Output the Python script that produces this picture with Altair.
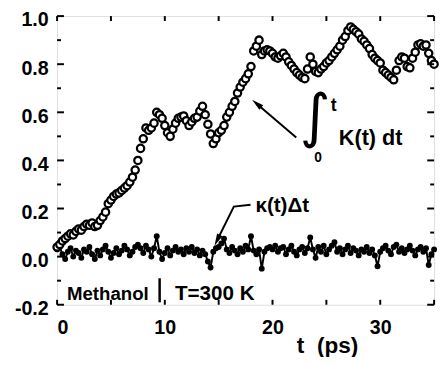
import altair as alt
import pandas as pd

# time grid (ps)
t_vals = [i * 0.25 for i in range(141)]

# integral of K(t) (open circles)
integral_vals = [
    0.04, 0.05, 0.065, 0.075, 0.085, 0.095, 0.09, 0.105, 0.115, 0.11,
    0.125, 0.135, 0.13, 0.14, 0.125, 0.13, 0.15, 0.165, 0.185, 0.22,
    0.235, 0.25, 0.26, 0.265, 0.275, 0.285, 0.295, 0.31, 0.33, 0.36,
    0.40, 0.45, 0.49, 0.535, 0.525, 0.535, 0.555, 0.60, 0.59, 0.575,
    0.545, 0.515, 0.50, 0.53, 0.555, 0.575, 0.58, 0.585, 0.565, 0.545,
    0.56, 0.575, 0.58, 0.605, 0.625, 0.59, 0.55, 0.51, 0.47, 0.49,
    0.515, 0.525, 0.545, 0.58, 0.60, 0.625, 0.645, 0.68, 0.705, 0.725,
    0.74, 0.76, 0.79, 0.855, 0.875, 0.90, 0.84, 0.855, 0.86, 0.855,
    0.845, 0.83, 0.825, 0.835, 0.845, 0.83, 0.81, 0.795, 0.78, 0.765,
    0.755, 0.745, 0.74, 0.78, 0.83, 0.80, 0.77, 0.765, 0.78, 0.79,
    0.805, 0.815, 0.83, 0.845, 0.86, 0.875, 0.90, 0.915, 0.94, 0.955,
    0.945, 0.935, 0.925, 0.905, 0.895, 0.88, 0.865, 0.84, 0.825, 0.815,
    0.805, 0.775, 0.765, 0.755, 0.745, 0.735, 0.775, 0.815, 0.83, 0.825,
    0.79, 0.785, 0.825, 0.85, 0.88, 0.885, 0.875, 0.88, 0.845, 0.815,
    0.80,
]

# kappa(t) * dt (filled dots)
kappa_vals = [
    0.03, 0.04, 0.01, -0.01, 0.02, 0.035, 0.00, 0.025, 0.015, -0.005,
    0.03, 0.02, 0.04, 0.01, -0.01, 0.025, 0.005, 0.03, 0.045, 0.02,
    -0.005, 0.015, 0.035, 0.01, 0.025, 0.045, 0.03, 0.005, 0.02, 0.04,
    0.05, 0.035, 0.015, 0.045, 0.03, 0.00, 0.035, 0.085, 0.02, -0.01,
    0.015, 0.035, 0.005, 0.025, 0.04, 0.02, 0.03, 0.01, 0.035, 0.02,
    0.04, 0.015, 0.03, 0.005, 0.025, 0.01, -0.02, -0.045, 0.02, 0.035,
    0.04, 0.055, 0.075, 0.03, 0.015, 0.04, 0.025, 0.01, 0.035, 0.02,
    0.045, 0.03, 0.085, 0.025, 0.01, 0.03, -0.05, 0.02, 0.035, 0.04,
    0.03, 0.045, 0.02, 0.035, 0.04, 0.01, 0.03, 0.045, 0.02, 0.005,
    0.03, 0.04, 0.015, 0.035, 0.08, 0.03, -0.005, 0.04, 0.02, 0.045,
    0.01, 0.03, 0.045, 0.06, 0.02, 0.035, 0.01, 0.03, 0.045, 0.015,
    0.035, 0.025, 0.005, 0.03, 0.02, 0.04, 0.015, 0.03, 0.005, -0.04,
    0.02, 0.035, 0.045, 0.025, 0.01, 0.04, 0.05, 0.02, 0.035, 0.015,
    0.03, 0.045, 0.025, 0.005, 0.03, 0.04, 0.02, 0.035, -0.035, 0.01,
    0.03,
]

x_label_vals = [0, 10, 20, 30]
x_tick_vals = [0, 5, 10, 15, 20, 25, 30, 35]
y_label_vals = [-0.2, 0.0, 0.2, 0.4, 0.6, 0.8, 1.0]
y_minor_vals = [-0.1, 0.1, 0.3, 0.5, 0.7, 0.9]

# annotation anchors (data units)
int_arrow_t = [22.2, 18.53]
int_arrow_v = [0.495, 0.636]
kap_arrow_t = [17.96, 16.41, 14.86]
kap_arrow_v = [0.216, 0.208, 0.068]
bar_t = [9.52]
bar_v = [-0.09]
bar_v2 = [-0.19]

W, H = 384, 294
xs = alt.Scale(domain=[0, 35], nice=False, zero=False)
ys = alt.Scale(domain=[-0.2, 1.0], nice=False, zero=False)
FONT = "Liberation Sans"

df = pd.DataFrame({"t": t_vals, "integral": integral_vals, "kappa": kappa_vals})

xaxis = alt.Axis(values=x_label_vals, ticks=False, domain=False, grid=False,
                 labelFont=FONT, labelFontWeight="bold", labelFontSize=20,
                 labelPadding=13, labelColor="black",
                 title="t\u00a0\u00a0(ps)", titleFont=FONT, titleFontWeight="bold",
                 titleFontSize=23, titleColor="black", titleX=275, titleY=31,
                 titleBaseline="top", titleAlign="center")
yaxis = alt.Axis(values=y_label_vals, ticks=False, domain=False, grid=False,
                 labelFont=FONT, labelFontWeight="bold", labelFontSize=20,
                 labelPadding=9, labelColor="black", labelOffset=4,
                 labelExpr="replace(format(datum.value, '.1f'), '\u2212', '-')",
                 title=None)

base = alt.Chart(df)

kappa_line = base.mark_line(color="black", strokeWidth=2).encode(
    x=alt.X("t:Q", scale=xs, axis=xaxis),
    y=alt.Y("kappa:Q", scale=ys, axis=yaxis),
)
kappa_pts = base.mark_point(filled=True, color="black", size=36, opacity=1).encode(
    x=alt.X("t:Q", scale=xs), y=alt.Y("kappa:Q", scale=ys)
)
int_pts = base.mark_point(filled=False, color="black", fill="white", fillOpacity=1,
                          size=55, strokeWidth=2.3, opacity=1).encode(
    x=alt.X("t:Q", scale=xs), y=alt.Y("integral:Q", scale=ys)
)

# inward ticks
xt = alt.Chart(pd.DataFrame({"t": x_tick_vals}))
xt_bottom = xt.mark_rule(color="black", strokeWidth=2).encode(
    x=alt.X("t:Q", scale=xs), y=alt.value(H), y2=alt.value(H - 5))
xt_top = xt.mark_rule(color="black", strokeWidth=2).encode(
    x=alt.X("t:Q", scale=xs), y=alt.value(0), y2=alt.value(5))
yt = alt.Chart(pd.DataFrame({"v": y_label_vals}))
yt_left = yt.mark_rule(color="black", strokeWidth=2).encode(
    y=alt.Y("v:Q", scale=ys), x=alt.value(0), x2=alt.value(7))
yt_right = yt.mark_rule(color="black", strokeWidth=2).encode(
    y=alt.Y("v:Q", scale=ys), x=alt.value(W), x2=alt.value(W - 7))
ym = alt.Chart(pd.DataFrame({"v": y_minor_vals}))
ym_left = ym.mark_rule(color="black", strokeWidth=2).encode(
    y=alt.Y("v:Q", scale=ys), x=alt.value(0), x2=alt.value(4))
ym_right = ym.mark_rule(color="black", strokeWidth=2).encode(
    y=alt.Y("v:Q", scale=ys), x=alt.value(W), x2=alt.value(W - 4))

# arrows
arrow_int = alt.Chart(pd.DataFrame({"t": int_arrow_t, "v": int_arrow_v, "o": [0, 1]})).mark_line(
    color="black", strokeWidth=2).encode(x=alt.X("t:Q", scale=xs), y=alt.Y("v:Q", scale=ys), order="o:Q")
head_int = alt.Chart(pd.DataFrame({"t": [int_arrow_t[-1]], "v": [int_arrow_v[-1]]})).mark_point(
    shape="M0,-1L0.5,1L-0.5,1Z", filled=True, color="black", size=150, angle=310, opacity=1).encode(
    x=alt.X("t:Q", scale=xs), y=alt.Y("v:Q", scale=ys))
arrow_kap = alt.Chart(pd.DataFrame({"t": kap_arrow_t, "v": kap_arrow_v, "o": [0, 1, 2]})).mark_line(
    color="black", strokeWidth=2).encode(x=alt.X("t:Q", scale=xs), y=alt.Y("v:Q", scale=ys), order="o:Q")
head_kap = alt.Chart(pd.DataFrame({"t": [kap_arrow_t[-1]], "v": [kap_arrow_v[-1]]})).mark_point(
    shape="M0,-1L0.5,1L-0.5,1Z", filled=True, color="black", size=150, angle=206, opacity=1).encode(
    x=alt.X("t:Q", scale=xs), y=alt.Y("v:Q", scale=ys))

bar = alt.Chart(pd.DataFrame({"t": bar_t, "v": bar_v, "v2": bar_v2})).mark_rule(
    color="black", strokeWidth=2.5).encode(
    x=alt.X("t:Q", scale=xs), y=alt.Y("v:Q", scale=ys), y2="v2:Q")


def label(text, t, v, size, align="left", baseline="alphabetic", font=FONT, weight="bold"):
    return alt.Chart(pd.DataFrame({"t": [t], "v": [v], "s": [text]})).mark_text(
        align=align, baseline=baseline, font=font, fontWeight=weight,
        fontSize=size, color="black").encode(
        x=alt.X("t:Q", scale=xs), y=alt.Y("v:Q", scale=ys), text="s:N")


texts = [
    label("Methanol", 0.91, -0.18, 19),
    label("T=300 K", 10.94, -0.18, 21),
    label("\u03ba(t)\u0394t", 18.41, 0.184, 21),
    label("\u222b", 23.95, 0.573, 60, align="center", baseline="middle",
          font="DejaVu Sans", weight="normal"),
    label("t", 25.4, 0.604, 18),
    label("0", 23.88, 0.392, 14),
    label("K(t) dt", 26.16, 0.465, 22),
]

chart = alt.layer(
    kappa_line, kappa_pts, int_pts,
    xt_bottom, xt_top, yt_left, yt_right, ym_left, ym_right,
    arrow_int, head_int, arrow_kap, head_kap, bar, *texts,
).properties(
    width=W, height=H,
    autosize=alt.AutoSizeParams(type="none"),
    padding={"left": 50, "top": 5, "right": 5, "bottom": 50},
).configure_view(stroke="black", strokeWidth=2.5).configure(background="white")

chart.save("out.html", embed_options={"renderer": "svg", "actions": False})
